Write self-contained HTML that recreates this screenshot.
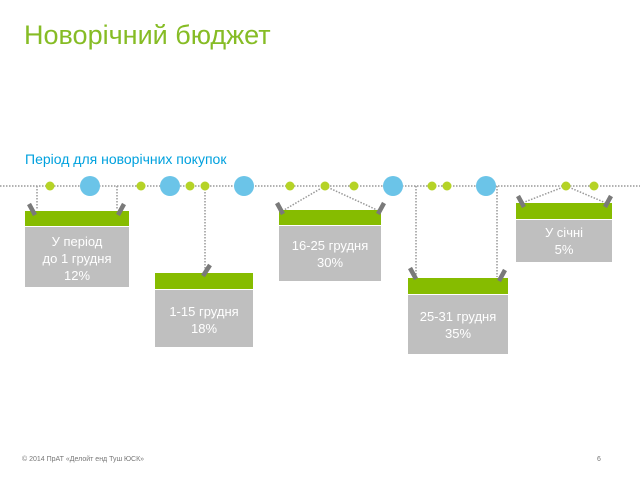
<!DOCTYPE html>
<html><head><meta charset="utf-8"><style>
body{margin:0;background:#fff;width:640px;height:473px;overflow:hidden;font-family:"Liberation Sans",sans-serif}
</style></head><body>
<svg width="640" height="473" xmlns="http://www.w3.org/2000/svg" font-family="Liberation Sans, sans-serif">
<text x="24" y="44" font-size="27" fill="#86bc25">Новорічний бюджет</text>
<text x="25" y="164" font-size="14" fill="#00a1de">Період для новорічних покупок</text>
<g stroke="#999" stroke-width="1.5" stroke-dasharray="1.5,1.5" fill="none">
<line x1="0" y1="186" x2="640" y2="186"/>
<line x1="37" y1="186" x2="37" y2="210"/>
<line x1="117" y1="186" x2="117" y2="210"/>
<line x1="205" y1="186" x2="205" y2="272"/>
<line x1="325" y1="186" x2="284" y2="210"/>
<line x1="325" y1="186" x2="377" y2="210"/>
<line x1="416" y1="186" x2="416" y2="277"/>
<line x1="497" y1="186" x2="497" y2="277"/>
<line x1="566" y1="186" x2="522" y2="203"/>
<line x1="566" y1="186" x2="606" y2="203"/>
</g>
<g fill="#b5d326">
<circle cx="50" cy="186" r="4.5"/><circle cx="141" cy="186" r="4.5"/><circle cx="190" cy="186" r="4.5"/><circle cx="205" cy="186" r="4.5"/><circle cx="290" cy="186" r="4.5"/><circle cx="325" cy="186" r="4.5"/><circle cx="354" cy="186" r="4.5"/><circle cx="432" cy="186" r="4.5"/><circle cx="447" cy="186" r="4.5"/><circle cx="566" cy="186" r="4.5"/><circle cx="594" cy="186" r="4.5"/>
</g>
<g fill="#6bc4e8">
<circle cx="90" cy="186" r="10"/><circle cx="170" cy="186" r="10"/><circle cx="244" cy="186" r="10"/><circle cx="393" cy="186" r="10"/><circle cx="486" cy="186" r="10"/>
</g>
<g fill="#bfbfbf">
<rect x="25" y="227" width="104" height="60"/>
<rect x="155" y="290" width="98" height="57"/>
<rect x="279" y="226" width="102" height="55"/>
<rect x="408" y="295" width="100" height="59"/>
<rect x="516" y="220" width="96" height="42"/>
</g>
<g fill="#86bc00">
<rect x="25" y="211" width="104" height="15"/>
<rect x="155" y="273" width="98" height="16"/>
<rect x="279" y="210" width="102" height="15"/>
<rect x="408" y="278" width="100" height="16"/>
<rect x="516" y="203" width="96" height="16"/>
</g>
<g stroke="#7a7a7a" stroke-width="4.5">
<line x1="29" y1="204" x2="35" y2="215"/>
<line x1="124" y1="204" x2="118" y2="215"/>
<line x1="210" y1="265" x2="203" y2="276"/>
<line x1="277" y1="203" x2="283" y2="214"/>
<line x1="384" y1="203" x2="378" y2="214"/>
<line x1="410" y1="268" x2="416" y2="279"/>
<line x1="505" y1="270" x2="499" y2="281"/>
<line x1="518" y1="196" x2="524" y2="207"/>
<line x1="611" y1="196" x2="605" y2="207"/>
</g>
<g fill="#fff" font-size="13" text-anchor="middle">
<text x="77" y="246">У період</text><text x="77" y="263">до 1 грудня</text><text x="77" y="280">12%</text>
<text x="204" y="316">1-15 грудня</text><text x="204" y="333">18%</text>
<text x="330" y="250">16-25 грудня</text><text x="330" y="267">30%</text>
<text x="458" y="321">25-31 грудня</text><text x="458" y="338">35%</text>
<text x="564" y="237">У січні</text><text x="564" y="254">5%</text>
</g>
<text x="22" y="461" font-size="7" fill="#777">© 2014 ПрАТ «Делойт енд Туш ЮСК»</text>
<text x="597" y="461" font-size="7" fill="#777">6</text>
</svg>
</body></html>
